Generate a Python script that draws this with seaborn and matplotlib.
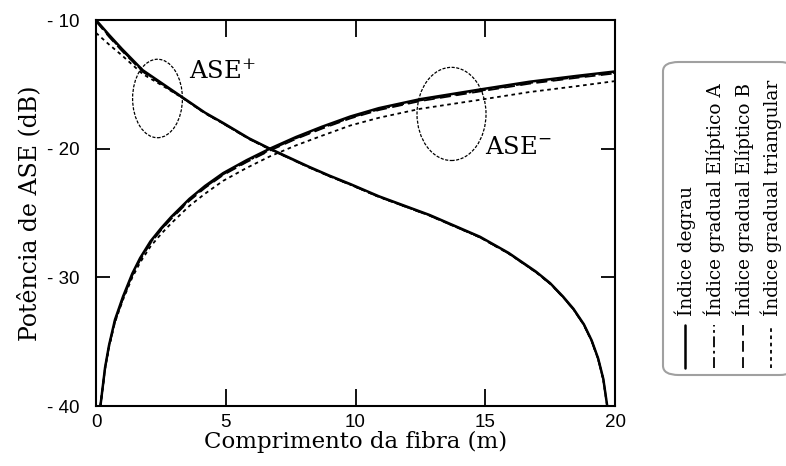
import matplotlib
matplotlib.use("Agg")
import matplotlib.pyplot as plt
from matplotlib.patches import Ellipse, FancyBboxPatch
from matplotlib.lines import Line2D
import seaborn as sns
import pandas as pd

# ---- data -------------------------------------------------------------
# forward ASE (ASE+) branch
x_plus = [0, 0.5, 1.0, 1.8, 2.6, 3.4, 4.2, 4.9, 5.9, 6.7, 8.2, 9.0, 9.8,
          10.9, 12.85, 14.8, 15.9, 16.95, 17.5, 18.0, 18.4, 18.8, 19.1,
          19.35, 19.55, 19.7]
plus_degrau = [-10.0, -11.15, -12.25, -13.9, -15.0, -16.1, -17.2, -18.0,
               -19.2, -20.0, -21.4, -22.1, -22.75, -23.7, -25.15, -26.85,
               -28.1, -29.55, -30.45, -31.5, -32.45, -33.65, -34.9, -36.3,
               -37.9, -40.0]
plus_eliptA = [-10.05, -11.25, -12.35, -13.98, -15.05, -16.13, -17.23, -18.03,
               -19.23, -20.03, -21.43, -22.13, -22.78, -23.73, -25.18, -26.88,
               -28.13, -29.58, -30.48, -31.53, -32.48, -33.68, -34.93, -36.33,
               -37.93, -40.0]
plus_eliptB = [-10.1, -11.3, -12.4, -14.02, -15.08, -16.15, -17.25, -18.05,
               -19.25, -20.05, -21.45, -22.15, -22.8, -23.75, -25.2, -26.9,
               -28.15, -29.6, -30.5, -31.55, -32.5, -33.7, -34.95, -36.35,
               -37.95, -40.0]
plus_triang = [-11.0, -11.9, -12.75, -14.2, -15.15, -16.15, -17.25, -18.05,
               -19.25, -20.05, -21.45, -22.15, -22.8, -23.75, -25.2, -26.9,
               -28.15, -29.6, -30.5, -31.55, -32.5, -33.7, -34.95, -36.35,
               -37.95, -40.0]

# backward ASE (ASE-) branch
x_minus = [0.17, 0.35, 0.5, 0.73, 1.04, 1.4, 1.7, 2.1, 2.5, 2.9, 3.6, 4.2,
           4.9, 5.8, 6.7, 7.7, 8.7, 9.8, 10.9, 12.5, 14.8, 16.7, 18.5, 20.0]
minus_degrau = [-40.0, -37.0, -35.3, -33.3, -31.5, -29.7, -28.5, -27.2, -26.2,
                -25.3, -23.9, -22.9, -21.9, -20.9, -20.0, -19.1, -18.3, -17.5,
                -16.85, -16.15, -15.4, -14.8, -14.35, -14.0]
minus_eliptA = [-40.0, -37.05, -35.35, -33.38, -31.6, -29.8, -28.6, -27.3, -26.3,
                -25.4, -24.0, -23.0, -22.0, -21.0, -20.1, -19.2, -18.4, -17.6,
                -16.95, -16.25, -15.5, -14.9, -14.45, -14.1]
minus_eliptB = [-40.0, -37.1, -35.4, -33.45, -31.65, -29.85, -28.65, -27.35, -26.35,
                -25.45, -24.05, -23.05, -22.05, -21.05, -20.15, -19.25, -18.45, -17.65,
                -17.0, -16.3, -15.55, -14.95, -14.5, -14.15]
minus_triang = [-40.0, -37.1, -35.45, -33.5, -31.75, -30.0, -28.85, -27.6, -26.65,
                -25.8, -24.45, -23.5, -22.5, -21.5, -20.6, -19.75, -19.0, -18.2,
                -17.6, -16.9, -16.2, -15.6, -15.15, -14.75]

series_labels = ["Índice degrau", "Índice gradual Elíptico A",
                 "Índice gradual Elíptico B", "Índice gradual triangular"]
x_ticks = [0, 5, 10, 15, 20]
y_ticks = [-40, -30, -20, -10]
y_tick_labels = ["- 40", "- 30", "- 20", "- 10"]

# ---- styling ------------------------------------------------------------
sns.set_theme(style="white")
plt.rcParams["font.family"] = ["DejaVu Serif"]
plt.rcParams["mathtext.fontset"] = "dejavuserif"

line_styles = ["-", (0, (6, 2, 1.5, 2)), (0, (6, 3)), (0, (2, 2))]
line_widths = [1.8, 1.3, 1.3, 1.3]

fig = plt.figure(figsize=(7.86, 4.66), dpi=100)
ax = fig.add_axes([96 / 786, 1 - 406 / 466, (615 - 96) / 786, (406 - 20) / 466])

plus_sets = [plus_degrau, plus_eliptA, plus_eliptB, plus_triang]
minus_sets = [minus_degrau, minus_eliptA, minus_eliptB, minus_triang]

for label, ls, lw, yp, ym in zip(series_labels, line_styles, line_widths,
                                 plus_sets, minus_sets):
    dfp = pd.DataFrame({"x": x_plus, "y": yp})
    dfm = pd.DataFrame({"x": x_minus, "y": ym})
    for df in (dfp, dfm):
        sns.lineplot(data=df, x="x", y="y", ax=ax, color="black",
                     linestyle=ls, linewidth=lw, estimator=None, sort=False,
                     legend=False)

ax.set_xlim(0, 20)
ax.set_ylim(-40, -10)
ax.set_xticks(x_ticks)
ax.set_yticks(y_ticks)
ax.set_yticklabels(y_tick_labels)
for lab in ax.get_xticklabels() + ax.get_yticklabels():
    lab.set_family("Liberation Sans")
    lab.set_fontsize(13.5)

ax.tick_params(axis="x", direction="in", length=12, width=1.3, top=True,
               bottom=True, pad=6, colors="black")
ax.tick_params(axis="y", direction="in", length=10, width=1.3, left=True,
               right=True, pad=12, colors="black")
for sp in ax.spines.values():
    sp.set_color("black")
    sp.set_linewidth(1.5)

ax.set_xlabel("Comprimento da fibra (m)", fontsize=16.5, labelpad=0,
              color="black")
ax.set_ylabel("Potência de ASE (dB)", fontsize=17, labelpad=4, color="black")

# ellipses marking the two branches
ax.add_patch(Ellipse((2.37, -16.1), 1.92, 6.1, fill=False, edgecolor="black",
                     linewidth=0.9, linestyle=(0, (2.5, 1.2))))
ax.add_patch(Ellipse((13.7, -17.3), 2.66, 7.24, fill=False, edgecolor="black",
                     linewidth=0.9, linestyle=(0, (2.5, 1.2))))
ax.text(3.6, -14.0, "ASE$^{+}$", fontsize=17.5, va="center", ha="left",
        color="black")
ax.text(15.0, -19.9, "ASE$^{-}$", fontsize=17.5, va="center", ha="left",
        color="black")

# vertical legend box on the right
W, H = 786, 466
box = FancyBboxPatch((663 / W, 1 - 375 / H), (795 - 663) / W, (375 - 62) / H,
                     boxstyle="round,pad=0,rounding_size=0.02",
                     transform=fig.transFigure, facecolor="white",
                     edgecolor="#a0a0a0", linewidth=1.5)
fig.patches.append(box)
entry_x = [685, 714, 743, 771]
for xe, label, ls, lw in zip(entry_x, series_labels, line_styles, line_widths):
    fig.add_artist(Line2D([xe / W, xe / W], [1 - 368 / H, 1 - 325 / H],
                          transform=fig.transFigure, color="black",
                          linestyle=ls, linewidth=lw))
    fig.text(xe / W, 1 - 316 / H, label, rotation=90, ha="center",
             va="bottom", fontsize=13.3, color="black")

fig.savefig("out.png", dpi=100)
